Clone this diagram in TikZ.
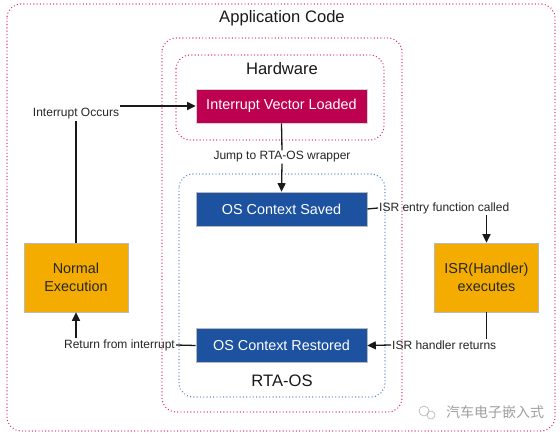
\documentclass[tikz,border=0pt]{standalone}
\usepackage{fontspec}
\setmainfont{Liberation Sans}
\newfontfamily\cjk{Noto Sans CJK SC}
\usetikzlibrary{arrows.meta,calc}
\definecolor{ivlcol}{RGB}{190,0,80}
\definecolor{oscol}{RGB}{28,82,160}
\definecolor{orcol}{RGB}{245,172,0}
\definecolor{pinkdot}{RGB}{225,40,100}
\definecolor{bluedot}{RGB}{80,130,205}
\definecolor{linecol}{RGB}{25,25,25}
\tikzset{
  dotbox/.style={line width=1.4pt, dash pattern=on 0pt off 3.3pt, line cap=round, rounded corners=14pt},
  procbox/.style={draw=gray!55, line width=0.6pt, minimum width=171pt, minimum height=34pt, inner sep=0pt, font=\fontsize{14.4}{17}\selectfont, text=white},
  sidebox/.style={draw=gray!55, line width=0.6pt, fill=orcol, minimum width=104pt, minimum height=69pt, inner sep=0pt, align=center, font=\fontsize{14.4}{17.5}\selectfont, text=black!85},
  lbl/.style={font=\fontsize{12}{14}\selectfont, inner sep=1pt, text=black!85},
  ttl/.style={font=\fontsize{16.6}{19}\selectfont, inner sep=0pt, text=black!90},
  conn/.style={draw=linecol, line width=1.3pt},
  arr/.style={conn, -{Triangle[length=8.5pt,width=8pt]}}
}
\begin{document}
\begin{tikzpicture}[x=1pt,y=-1pt]
\useasboundingbox (0,0) rectangle (560,438);
\fill[white] (0,0) rectangle (560,438);
% containers
\draw[dotbox, draw=pinkdot] (7,4) rectangle (555,431);
\draw[dotbox, draw=pinkdot] (162,38) rectangle (402,412);
\draw[dotbox, draw=pinkdot] (176,55) rectangle (384,140);
\draw[dotbox, draw=bluedot] (179,174) rectangle (385,397);
% titles
\node[ttl] (tapp) at (282,18) {Application Code};
\node[ttl] (thw) at (282,69) {Hardware};
\node[ttl] (trta) at (282,381) {RTA-OS};
% process boxes
\node[procbox, fill=ivlcol, draw=gray!35] (ivl) at (281.5,106) {Interrupt Vector Loaded};
\node[procbox, fill=oscol] (oscs) at (281.5,209) {OS Context Saved};
\node[procbox, fill=oscol] (oscr) at (281.5,345.5) {OS Context Restored};
\node[sidebox] (ne) at (76,277.5) {Normal\\Execution};
\node[sidebox] (isr) at (486.5,277.5) {ISR(Handler)\\executes};
% labels
\node[lbl] (lio) at (76,114) {Interrupt Occurs};
\node[lbl] (ljump) at (282,157) {Jump to RTA-OS wrapper};
\node[lbl, anchor=west] (lentry) at (378,208) {ISR entry function called};
\node[lbl, anchor=west] (lret) at (391,345) {ISR handler returns};
\node[lbl, anchor=east] (lrfi) at (176,345) {Return from interrupt};
\coordinate (iostart) at (120,106);
% connectors
\draw[conn] (ne.north) -- (ne.north |- lio.south);
\draw[arr] (iostart) -- (ivl.west);
\draw[conn] (ivl.south) -- (ljump.north);
\draw[arr] (ljump.south) -- (oscs.north);
\draw[conn] (oscs.east) -- (lentry.west);
\draw[arr] (isr.north |- lentry.south) -- (isr.north);
\draw[conn] (isr.south) -- (isr.south |- lret.north);
\draw[arr] (lret.west) -- (oscr.east);
\draw[conn] (oscr.west) -- (lrfi.east);
\draw[arr] (ne.south |- lrfi.north) -- (ne.south);
% watermark
\node[font=\cjk\fontsize{14}{16}\selectfont, text=gray!75, inner sep=0pt] (wm) at (495,412) {汽车电子嵌入式};
\draw[gray!60, line width=0.6pt] (424,411) circle (5pt);
\draw[gray!60, line width=0.6pt] (431,415) circle (4pt);
\end{tikzpicture}
\end{document}
